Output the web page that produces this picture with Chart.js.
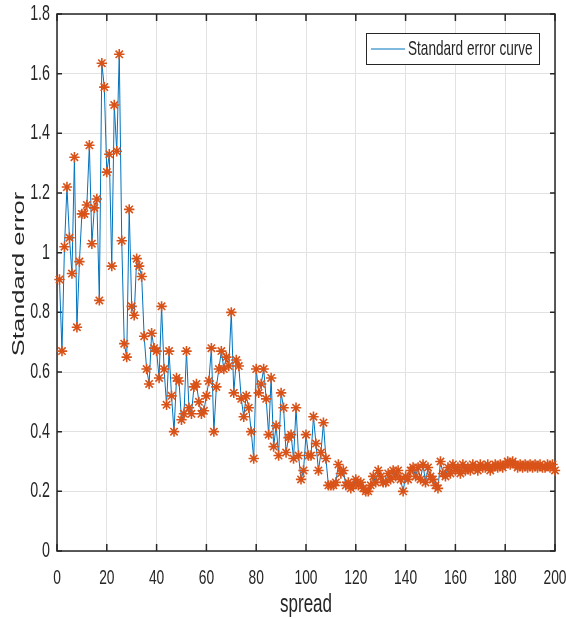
<!DOCTYPE html>
<html>
<head>
<meta charset="utf-8">
<script src="https://cdn.jsdelivr.net/npm/chart.js@4.4.1/dist/chart.umd.min.js"></script>
<style>
  html, body { margin: 0; padding: 0; background: #fff; }
  #wrap { width: 566px; height: 619px; }
</style>
</head>
<body>
<div id="wrap"><canvas id="seChart" width="566" height="619"></canvas></div>
<script>
'use strict';

// spread index 1..200
const spread = Array.from({ length: 200 }, (_, i) => i + 1);

const standardError = [
  0.91, 0.67, 1.02, 1.22, 1.05, 0.93, 1.32, 0.75, 0.97, 1.13,
  1.13, 1.16, 1.36, 1.03, 1.15, 1.18, 0.84, 1.635, 1.555, 1.27,
  1.33, 0.955, 1.495, 1.34, 1.665, 1.04, 0.695, 0.65, 1.145, 0.82,
  0.79, 0.98, 0.955, 0.92, 0.72, 0.61, 0.56, 0.73, 0.68, 0.67,
  0.58, 0.82, 0.61, 0.49, 0.67, 0.52, 0.40, 0.58, 0.57, 0.44,
  0.46, 0.67, 0.48, 0.46, 0.55, 0.56, 0.50, 0.46, 0.47, 0.52,
  0.57, 0.68, 0.40, 0.55, 0.61, 0.67, 0.61, 0.65, 0.62, 0.80,
  0.53, 0.64, 0.62, 0.51, 0.45, 0.52, 0.48, 0.40, 0.31, 0.61,
  0.53, 0.56, 0.61, 0.51, 0.39, 0.58, 0.35, 0.42, 0.32, 0.53,
  0.48, 0.33, 0.38, 0.39, 0.31, 0.48, 0.32, 0.24, 0.27, 0.39,
  0.32, 0.32, 0.45, 0.36, 0.27, 0.33, 0.43, 0.31, 0.22, 0.22,
  0.22, 0.23, 0.29, 0.26, 0.27, 0.22, 0.23, 0.21, 0.22, 0.24,
  0.22, 0.23, 0.21, 0.20, 0.20, 0.22, 0.25, 0.23, 0.27, 0.25,
  0.23, 0.23, 0.26, 0.24, 0.27, 0.25, 0.27, 0.24, 0.20, 0.25,
  0.24, 0.27, 0.28, 0.25, 0.28, 0.24, 0.29, 0.23, 0.28, 0.25,
  0.24, 0.22, 0.21, 0.30, 0.26, 0.25, 0.28, 0.26, 0.29, 0.27,
  0.28, 0.26, 0.29, 0.27, 0.28, 0.27, 0.29, 0.28, 0.27, 0.29,
  0.28, 0.28, 0.29, 0.27, 0.28, 0.29, 0.28, 0.29, 0.28, 0.29,
  0.30, 0.29, 0.30, 0.29, 0.28, 0.29, 0.28, 0.29, 0.28, 0.29,
  0.28, 0.29, 0.28, 0.29, 0.28, 0.28, 0.29, 0.28, 0.29, 0.27,
];

const xTicks = [0, 20, 40, 60, 80, 100, 120, 140, 160, 180, 200];
const yTicks = [0, 0.2, 0.4, 0.6, 0.8, 1, 1.2, 1.4, 1.6, 1.8];

const seriesLabel = 'Standard error curve';
const xTitle = 'spread';
const yTitle = 'Standard error';

const LINE_BLUE = '#0072BD';
const MARK_ORANGE = '#D95319';
const AXIS_DARK = '#262626';
const FONT = '"Liberation Sans", Arial, sans-serif';
const SY = 1.5; // the reference text is drawn tall and narrow

function tallText(ctx, text, x, y, px, align, baseline, rotate) {
  ctx.save();
  ctx.translate(x, y);
  ctx.scale(1, SY);
  if (rotate) ctx.rotate(-Math.PI / 2);
  ctx.font = px + 'px ' + FONT;
  ctx.fillStyle = AXIS_DARK;
  ctx.textAlign = align;
  ctx.textBaseline = baseline;
  ctx.fillText(text, 0, 0);
  ctx.restore();
}

// box frame + inward tick marks, MATLAB style
const framePlugin = {
  id: 'frame',
  beforeDatasetsDraw(chart) {
    const { ctx, chartArea: a, scales } = chart;
    ctx.save();
    ctx.strokeStyle = AXIS_DARK;
    ctx.lineWidth = 1.5;
    ctx.strokeRect(a.left, a.top, a.right - a.left, a.bottom - a.top);
    ctx.beginPath();
    xTicks.forEach((v) => {
      const px = scales.x.getPixelForValue(v);
      ctx.moveTo(px, a.bottom); ctx.lineTo(px, a.bottom - 7);
      ctx.moveTo(px, a.top);    ctx.lineTo(px, a.top + 7);
    });
    yTicks.forEach((v) => {
      const py = scales.y.getPixelForValue(v);
      ctx.moveTo(a.left, py);  ctx.lineTo(a.left + 5, py);
      ctx.moveTo(a.right, py); ctx.lineTo(a.right - 5, py);
    });
    ctx.stroke();
    ctx.restore();
  },
  afterDraw(chart) {
    const { ctx, chartArea: a, scales } = chart;
    // tick labels
    xTicks.forEach((v) => {
      tallText(ctx, String(v), scales.x.getPixelForValue(v), a.bottom + 17, 13.8, 'center', 'top');
    });
    yTicks.forEach((v) => {
      tallText(ctx, String(v), a.left - 7, scales.y.getPixelForValue(v), 14.3, 'right', 'middle');
    });
    // axis titles
    tallText(ctx, xTitle, (a.left + a.right) / 2, 605, 17, 'center', 'middle');
    tallText(ctx, yTitle, 19, 274, 17, 'center', 'middle', true);

    // legend box inside the axes
    const bx = 366, by = 33, bw = 173, bh = 31;
    ctx.save();
    ctx.fillStyle = '#fff';
    ctx.fillRect(bx, by, bw, bh);
    ctx.strokeStyle = AXIS_DARK;
    ctx.lineWidth = 1;
    ctx.strokeRect(bx + 0.5, by + 0.5, bw, bh);
    ctx.strokeStyle = LINE_BLUE;
    ctx.beginPath();
    ctx.moveTo(bx + 5, by + 16);
    ctx.lineTo(bx + 39, by + 16);
    ctx.stroke();
    ctx.restore();
    tallText(ctx, chart.data.datasets[0].label, bx + 42, by + 16.5, 13.6, 'left', 'middle');
  },
};

const ctx = document.getElementById('seChart').getContext('2d');
new Chart(ctx, {
  type: 'scatter',
  data: {
    datasets: [{
      label: seriesLabel,
      data: spread.map((x, i) => ({ x, y: standardError[i] })),
      showLine: true,
      borderColor: LINE_BLUE,
      borderWidth: 1,
      tension: 0,
      pointStyle: 'star',
      pointRadius: 5.2,
      pointBorderWidth: 1.6,
      pointBorderColor: MARK_ORANGE,
      pointBackgroundColor: MARK_ORANGE,
      clip: false,
    }],
  },
  options: {
    responsive: false,
    animation: false,
    layout: { padding: { top: 14, right: 11, left: 0, bottom: 0 } },
    plugins: {
      legend: { display: false },
      tooltip: { enabled: false },
    },
    scales: {
      x: {
        type: 'linear',
        min: 0,
        max: 200,
        afterBuildTicks: (s) => { s.ticks = xTicks.map((value) => ({ value })); },
        afterFit: (s) => { s.height = 68; },
        ticks: { display: false },
        grid: { color: '#e2e2e2', drawTicks: false },
        border: { display: false },
      },
      y: {
        min: 0,
        max: 1.8,
        afterBuildTicks: (s) => { s.ticks = yTicks.map((value) => ({ value })); },
        afterFit: (s) => { s.width = 57; },
        ticks: { display: false },
        grid: { color: '#e2e2e2', drawTicks: false },
        border: { display: false },
      },
    },
  },
  plugins: [framePlugin],
});
</script>
</body>
</html>
